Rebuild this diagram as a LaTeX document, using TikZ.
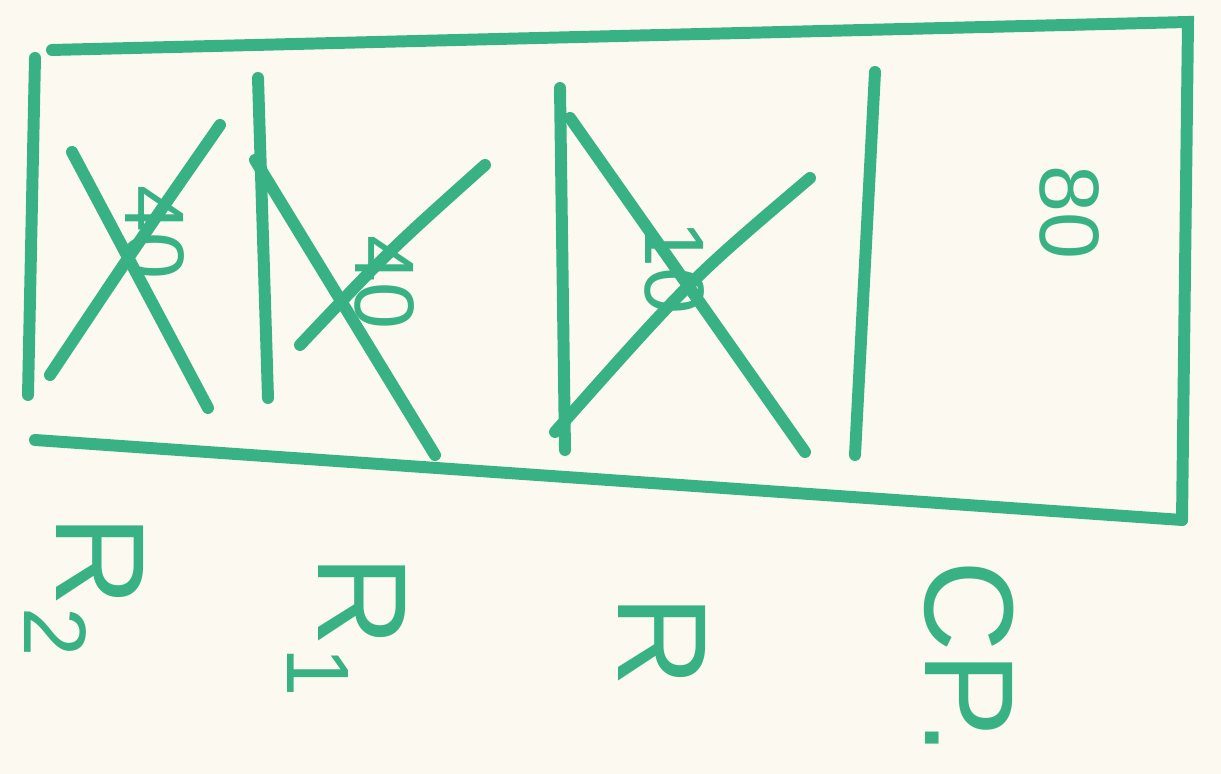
\documentclass[tikz,border=0pt]{standalone}
\usepackage{fontspec}
\setmainfont{Liberation Sans}
\definecolor{marker}{RGB}{56,178,132}
\definecolor{paper}{RGB}{251,249,240}
\begin{document}
\begin{tikzpicture}[x=0.01cm,y=-0.01cm,
    pen/.style={marker,line width=3.4pt,line cap=round},
    tag/.style={marker,rotate=-90,anchor=base west,inner sep=0pt,font=\fontsize{36}{36}\selectfont},
    note/.style={marker,rotate=-90,anchor=base west,inner sep=0pt,font=\fontsize{24}{24}\selectfont}]
  \fill[paper] (0,0) rectangle (1221,774);
  % outer frame
  \coordinate (tl) at (52,50);
  \coordinate (tr) at (1188,22);
  \coordinate (br) at (1182,520);
  \coordinate (bl) at (35,440);
  \draw[pen] (tl) -- (tr) -- (br);
  \draw[pen] (bl) -- (br);
  % cell walls
  \foreach \xa/\ya/\xb/\yb in {35/58/28/395, 258/78/268/398, 560/88/565/450, 875/72/855/455}
    \draw[pen] (\xa,\ya) -- (\xb,\yb);
  % crossed out cells
  \draw[pen] (72,152) -- (208,408);
  \draw[pen] (220,125) .. controls (140,240) .. (50,375);
  \draw[pen] (255,160) -- (435,455);
  \draw[pen] (485,165) .. controls (390,250) .. (300,345);
  \draw[pen] (570,118) -- (805,452);
  \draw[pen] (810,178) .. controls (690,280) .. (555,432);
  % values
  \node[note] (v1) at (125,185) {40};
  \node[note] (v2) at (355,235) {40};
  \node[note] (v3) at (645,220) {10};
  \node[note] (v4) at (1040,165) {80};
  % names under the cells
  \node[tag] (n1) at (56,515) {R\textsubscript{2}};
  \node[tag] (n2) at (318,555) {R\textsubscript{1}};
  \node[tag] (n3) at (618,595) {R};
  \node[tag] (n4) at (925,560) {CP.};
\end{tikzpicture}
\end{document}
